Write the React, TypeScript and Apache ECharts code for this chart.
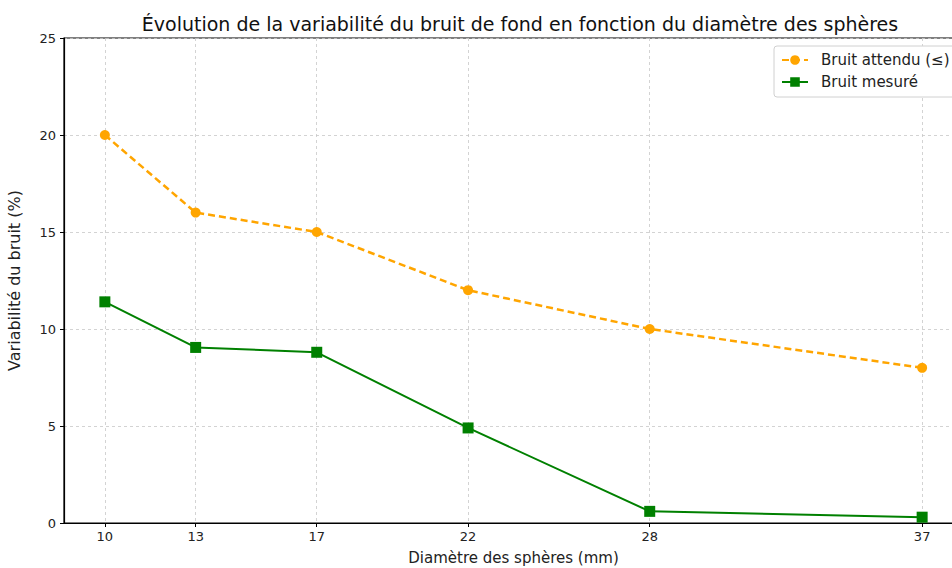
import React, { useEffect, useRef } from "react";
import * as echarts from "echarts";

const diameters = [10, 13, 17, 22, 28, 37];
const expectedNoise = [20, 16, 15, 12, 10, 8];
const measuredNoise = [11.4, 9.05, 8.8, 4.9, 0.6, 0.3];
const yTicks = [0, 5, 10, 15, 20, 25];

const FONT = "DejaVu Sans";

export default function App() {
  const ref = useRef<HTMLDivElement>(null);
  useEffect(() => {
    if (!ref.current) return;
    const chart = echarts.init(ref.current, undefined, { renderer: "svg" });
    const gridDash = { color: "#c8c8c8", type: [3, 3] as any, width: 0.8 };
    chart.setOption({
      animation: false,
      backgroundColor: "#fff",
      title: {
        text: "Évolution de la variabilité du bruit de fond en fonction du diamètre des sphères",
        left: 515,
        textAlign: "center",
        top: 9,
        textStyle: { fontFamily: FONT, fontSize: 19, fontWeight: "normal", color: "#111" },
      },
      legend: {
        orient: "vertical",
        left: 774,
        top: 46,
        backgroundColor: "#fff",
        borderColor: "#d0d0d0",
        borderWidth: 1,
        borderRadius: 3,
        padding: [5, 10, 6, 7],
        itemGap: 4,
        itemWidth: 26,
        itemHeight: 12,
        textStyle: { fontFamily: FONT, fontSize: 15, color: "#222", padding: [0, 0, 0, 8], lineHeight: 18 },
        data: ["Bruit attendu (≤)", "Bruit mesuré"],
      },
      grid: {
        left: 64,
        top: 38,
        width: 899,
        height: 485,
        outerBoundsMode: "none",
        containLabel: false,
        show: true,
        borderColor: "#000",
        borderWidth: 1.2,
        backgroundColor: "transparent",
      },
      xAxis: {
        type: "value",
        min: 8.65,
        max: 38.35,
        name: "Diamètre des sphères (mm)",
        nameLocation: "middle",
        nameGap: 27,
        nameTextStyle: { fontFamily: FONT, fontSize: 15, color: "#222" },
        axisLine: { lineStyle: { color: "#000", width: 1.2 } },
        axisTick: { show: true, customValues: diameters, length: 4, lineStyle: { color: "#000" } },
        axisLabel: { customValues: diameters, fontFamily: FONT, fontSize: 13, color: "#222", margin: 7 },
        splitLine: { show: true, lineStyle: gridDash },
      },
      yAxis: {
        type: "value",
        min: 0,
        max: 25,
        interval: 5,
        name: "Variabilité du bruit (%)",
        nameLocation: "middle",
        nameGap: 42,
        nameTextStyle: { fontFamily: FONT, fontSize: 16, color: "#222" },
        axisLine: { show: true, lineStyle: { color: "#000", width: 1.2 } },
        axisTick: { show: true, length: 4, lineStyle: { color: "#000" } },
        axisLabel: { fontFamily: FONT, fontSize: 13, color: "#222", margin: 8, customValues: yTicks },
        splitLine: { show: true, lineStyle: gridDash },
      },
      series: [
        {
          name: "Bruit attendu (≤)",
          type: "line",
          data: diameters.map((d, i) => [d, expectedNoise[i]]),
          symbol: "circle",
          symbolSize: 10,
          itemStyle: { color: "#FFA500" },
          lineStyle: { color: "#FFA500", width: 2.5, type: [7, 4] as any },
          z: 3,
        },
        {
          name: "Bruit mesuré",
          type: "line",
          data: diameters.map((d, i) => [d, measuredNoise[i]]),
          symbol: "rect",
          symbolSize: 11,
          itemStyle: { color: "#008000" },
          lineStyle: { color: "#008000", width: 2 },
          z: 3,
        },
      ],
    });
    return () => chart.dispose();
  }, []);
  return (
    <div
      ref={ref}
      style={{ position: "fixed", left: 0, top: 0, width: 952, height: 568, overflow: "hidden" }}
    />
  );
}
